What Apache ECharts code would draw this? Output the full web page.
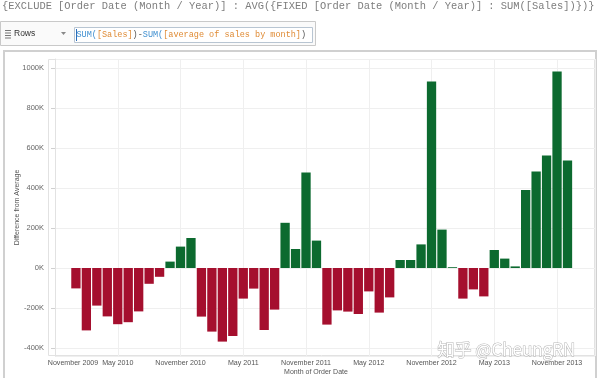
<!DOCTYPE html>
<html>
<head>
<meta charset="utf-8">
<script src="https://cdn.jsdelivr.net/npm/echarts@6/dist/echarts.min.js"></script>
<style>
html, body { margin: 0; padding: 0; background: #fff; }
#main { width: 600px; height: 378px; }
</style>
</head>
<body>
<div id="main"></div>
<script>
// Month of Order Date, Jan 2010 .. Dec 2013
const months = [
  '2010-01', '2010-02', '2010-03', '2010-04', '2010-05', '2010-06', '2010-07', '2010-08', '2010-09', '2010-10', '2010-11', '2010-12',
  '2011-01', '2011-02', '2011-03', '2011-04', '2011-05', '2011-06', '2011-07', '2011-08', '2011-09', '2011-10', '2011-11', '2011-12',
  '2012-01', '2012-02', '2012-03', '2012-04', '2012-05', '2012-06', '2012-07', '2012-08', '2012-09', '2012-10', '2012-11', '2012-12',
  '2013-01', '2013-02', '2013-03', '2013-04', '2013-05', '2013-06', '2013-07', '2013-08', '2013-09', '2013-10', '2013-11', '2013-12'
];
// Difference from Average (K)
const diffK = [
  -102, -312, -188, -242, -281, -271, -217, -79, -44, 32, 107, 150,
  -243, -318, -368, -340, -153, -103, -310, -208, 226, 95, 478, 137,
  -283, -212, -218, -230, -117, -223, -147, 40, 40, 118, 932, 192,
  4, -153, -107, -142, 90, 47, 8, 390, 482, 562, 982, 538
];
// axis labels every 6 months, starting Nov 2009
const tickLabels = [
  'November 2009', 'May 2010', 'November 2010', 'May 2011', 'November 2011',
  'May 2012', 'November 2012', 'May 2013', 'November 2013'
];
const axisStartOffset = 2; // Nov 2009 -> Jan 2010 is 2 months

const red = '#a50f2e';
const green = '#0c6a2f';

const chart = echarts.init(document.getElementById('main'));

const formulaRich = {
  b: { fill: '#3f8fd0', fontFamily: 'Liberation Mono', fontSize: 8.5 },
  o: { fill: '#df8a33', fontFamily: 'Liberation Mono', fontSize: 8.5 },
  d: { fill: '#555555', fontFamily: 'Liberation Mono', fontSize: 8.5 }
};

chart.setOption({
  animation: false,
  backgroundColor: '#ffffff',
  grid: {
    left: 55, right: 5, top: 59, bottom: 22,
    containLabel: false,
    outerBoundsMode: 'none'
  },
  xAxis: {
    type: 'value',
    min: 0,
    max: 51.63,
    interval: 6,
    axisLine: { show: false, onZero: false },
    axisTick: { show: false },
    splitLine: { show: true, lineStyle: { color: '#efefef', width: 1 } },
    axisLabel: {
      showMaxLabel: false,
      fontSize: 7.1,
      fontFamily: 'Liberation Sans',
      color: '#555',
      margin: 4,
      formatter: function (v) {
        const i = Math.round(v / 6);
        if (Math.abs(v - i * 6) > 1e-6 || !tickLabels[i]) return '';
        return i === 0 ? '{first|' + tickLabels[0] + '}' : tickLabels[i];
      },
      rich: {
        first: { padding: [0, 0, 0, 36], fontSize: 7.1, fontFamily: 'Liberation Sans', color: '#555' }
      }
    },
    name: 'Month of Order Date',
    nameLocation: 'middle',
    nameGap: 13,
    nameMoveOverlap: false,
    nameTextStyle: { fontSize: 7, fontFamily: 'Liberation Sans', color: '#555', padding: [0, 18, 0, 0] }
  },
  yAxis: {
    type: 'value',
    min: -440000,
    max: 1045000,
    splitNumber: 7,
    offset: 7,
    axisLine: { show: true, lineStyle: { color: '#e2e2e2' } },
    axisTick: { show: true, length: 4, lineStyle: { color: '#d0d0d0' } },
    splitLine: { show: true, lineStyle: { color: '#efefef', width: 1 } },
    axisLabel: {
      showMinLabel: false,
      showMaxLabel: false,
      fontSize: 7.5,
      fontFamily: 'Liberation Sans',
      color: '#666',
      margin: 4,
      formatter: v => (v / 1000) + 'K'
    },
    name: 'Difference from Average',
    nameLocation: 'middle',
    nameRotate: 90,
    nameGap: 27,
    nameMoveOverlap: false,
    nameTextStyle: { fontSize: 7, fontFamily: 'Liberation Sans', color: '#555' }
  },
  series: [{
    type: 'bar',
    data: diffK.map((v, i) => ({ name: months[i], value: [i + axisStartOffset, v * 1000] })),
    barWidth: 9.3,
    itemStyle: { color: p => (p.value[1] >= 0 ? green : red) },
    markLine: {
      silent: true,
      symbol: 'none',
      label: { show: false },
      lineStyle: { color: '#c4c4c4', width: 1, type: 'solid' },
      data: [[{ coord: [-0.67, 0] }, { coord: [51.63, 0] }]]
    }
  }],
  graphic: [
    // formula line
    {
      type: 'text', left: 2, top: 1,
      style: {
        text: '{EXCLUDE [Order Date (Month / Year)] : AVG({FIXED [Order Date (Month / Year)] : SUM([Sales])})}',
        fontFamily: 'Liberation Mono', fontSize: 10.4, fill: '#7d7d7d'
      }
    },
    // rows shelf
    { type: 'rect', shape: { x: 0.5, y: 21.5, width: 315, height: 24 }, style: { fill: '#fafafa', stroke: '#c9c9c9', lineWidth: 1 } },
    { type: 'rect', shape: { x: 5, y: 30, width: 6, height: 1 }, style: { fill: '#777' } },
    { type: 'rect', shape: { x: 5, y: 32.5, width: 6, height: 1 }, style: { fill: '#777' } },
    { type: 'rect', shape: { x: 5, y: 35, width: 6, height: 1 }, style: { fill: '#777' } },
    { type: 'rect', shape: { x: 5, y: 37.5, width: 6, height: 1 }, style: { fill: '#777' } },
    {
      type: 'text', left: 14, top: 29,
      style: { text: 'Rows', fontFamily: 'Liberation Sans', fontSize: 8.5, fill: '#333' }
    },
    { type: 'polygon', shape: { points: [[61, 32], [66, 32], [63.5, 35]] }, style: { fill: '#888' } },
    { type: 'rect', shape: { x: 74.5, y: 27.5, width: 238, height: 15 }, style: { fill: '#fff', stroke: '#b8c5d2', lineWidth: 1 } },
    {
      type: 'text', left: 76.5, top: 30,
      style: {
        text: '{b|SUM(}{o|[Sales]}{d|)-}{b|SUM(}{o|[average of sales by month]}{d|)}',
        rich: formulaRich
      }
    },
    { type: 'line', shape: { x1: 76.5, y1: 29, x2: 76.5, y2: 41 }, style: { stroke: '#2a6ebb', lineWidth: 1 } },
    // panel and plot frame
    { type: 'rect', shape: { x: 4, y: 51, width: 592, height: 332 }, style: { fill: 'none', stroke: '#d0d0d0', lineWidth: 2 } },
    { type: 'rect', shape: { x: 48.5, y: 59.5, width: 546, height: 296 }, style: { fill: 'none', stroke: '#e2e2e2', lineWidth: 1 } },
    // watermark
    {
      type: 'text', left: 437, top: 341, z: 100,
      style: {
        text: '知乎 @CheungRN',
        fontFamily: 'Noto Sans CJK SC', fontSize: 17,
        fill: '#ffffff', stroke: 'rgba(120,120,120,0.55)', lineWidth: 1
      }
    }
  ]
});
</script>
</body>
</html>
